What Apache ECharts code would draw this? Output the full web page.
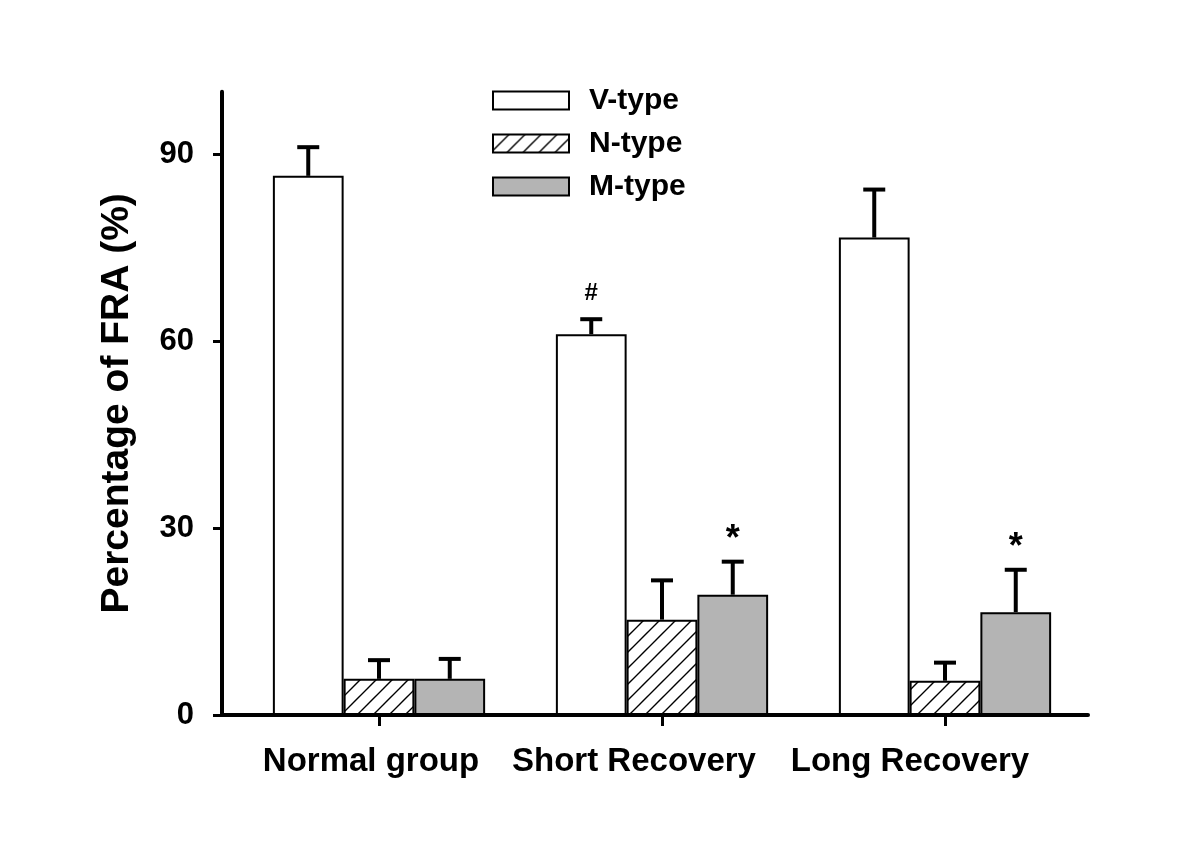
<!DOCTYPE html>
<html>
<head>
<meta charset="utf-8">
<script src="https://cdn.jsdelivr.net/npm/echarts@6/dist/echarts.min.js"></script>
<style>html,body{margin:0;padding:0;background:#fff;}#chart{width:1200px;height:863px;}</style>
</head>
<body>
<div id="chart"></div>
<script>
// ---- data ----
const categories = ['Normal group', 'Short Recovery', 'Long Recovery'];
const seriesNames = ['V-type', 'N-type', 'M-type'];
const vType = [86.5, 61.1, 76.6];
const vErr  = [4.6, 2.4, 7.7];
const nType = [5.8, 15.3, 5.5];
const nErr  = [3.0, 6.3, 2.9];
const mType = [5.8, 19.3, 16.5];
const mErr  = [3.2, 5.3, 6.8];
const vSig = ['', '#', ''];
const nSig = ['', '', ''];
const mSig = ['', '*', '*'];
const yTicks = [0, 30, 60, 90];
const yMin = 0, yMax = 100;

// ---- styles ----
const FONT = "'Liberation Sans', Arial, Helvetica, sans-serif";
function hatchPattern() {
  const c = document.createElement('canvas');
  c.width = 16; c.height = 16;
  const g = c.getContext('2d');
  g.fillStyle = '#fff'; g.fillRect(0, 0, 16, 16);
  g.strokeStyle = '#000'; g.lineWidth = 1.4;
  g.beginPath();
  g.moveTo(-2, 18); g.lineTo(18, -2);
  g.moveTo(-2, 2); g.lineTo(2, -2);
  g.moveTo(14, 18); g.lineTo(18, 14);
  g.stroke();
  return c;
}
const fills = ['#ffffff', { image: hatchPattern(), repeat: 'repeat' }, '#b4b4b4'];
const values = [vType, nType, mType];
const errs = [vErr, nErr, mErr];
const sigs = [vSig, nSig, mSig];
const sigStyle = { '#': { size: 24, dy: 26 }, '*': { size: 36, dy: 22 } };
const labelShift = ['a', 'b', 'c'];

const gridTop = 91.7, gridBottom = 863 - 715;

const series = [];
values.forEach((vals, s) => {
  series.push({
    name: seriesNames[s],
    type: 'bar',
    xAxisIndex: 1, yAxisIndex: 1,
    data: vals,
    barGap: '0%',
    barCategoryGap: '25%',
    itemStyle: { color: fills[s], borderColor: '#000', borderWidth: 2 },
    emphasis: { disabled: true },
    z: 2
  });
});
values.forEach((vals, s) => {
  const offset = s - 1;
  series.push({
    type: 'custom',
    xAxisIndex: 1, yAxisIndex: 1,
    data: vals.map((v, i) => [i, v, errs[s][i]]),
    encode: { x: 0, y: 1 },
    z: 5,
    silent: true,
    renderItem: function (params, api) {
      const i = api.value(0), v = api.value(1), e = api.value(2);
      const base = api.coord([i, v]);
      const top = api.coord([i, v + e]);
      const bw = api.size([1, 0])[0] * 0.25;
      const x = base[0] + offset * bw;
      const children = [
        { type: 'line', shape: { x1: x, y1: base[1], x2: x, y2: top[1] }, style: { stroke: '#000', lineWidth: 4 } },
        { type: 'line', shape: { x1: x - 11, y1: top[1], x2: x + 11, y2: top[1] }, style: { stroke: '#000', lineWidth: 4 } }
      ];
      const sg = sigs[s][params.dataIndex];
      if (sg) {
        const st = sigStyle[sg];
        children.push({
          type: 'text', x: x, y: top[1] - st.dy,
          style: { text: sg, fill: '#000', font: 'bold ' + st.size + 'px ' + FONT, align: 'center', verticalAlign: 'middle' }
        });
      }
      return { type: 'group', children: children };
    }
  });
});

const option = {
  animation: false,
  backgroundColor: '#fff',
  legend: {
    data: seriesNames,
    orient: 'vertical',
    left: 487, top: 80,
    icon: 'rect',
    itemWidth: 76, itemHeight: 18,
    itemGap: 12,
    selectedMode: false,
    textStyle: { fontFamily: FONT, fontWeight: 'bold', fontSize: 30, color: '#000', lineHeight: 31, padding: [0, 0, 0, 15] }
  },
  grid: [
    { left: 222, top: gridTop, width: 866, bottom: gridBottom },
    { left: 237.5, top: gridTop, width: 849, bottom: gridBottom }
  ],
  xAxis: [
    { type: 'value', gridIndex: 0, min: 0, max: 1,
      axisLine: { show: true, lineStyle: { color: '#000', width: 4 } },
      axisTick: { show: false }, axisLabel: { show: false }, splitLine: { show: false } },
    { type: 'category', gridIndex: 1, data: categories,
      axisLine: { show: false },
      axisTick: { show: true, alignWithLabel: true, length: 11, lineStyle: { color: '#000', width: 3 } },
      axisLabel: {
        margin: 30,
        formatter: function (val, idx) { return '{' + labelShift[idx] + '|' + val + '}'; },
        rich: {
          a: { fontFamily: FONT, fontWeight: 'bold', fontSize: 33, color: '#000', padding: [0, 16, 0, 0] },
          b: { fontFamily: FONT, fontWeight: 'bold', fontSize: 33, color: '#000', padding: [0, 56, 0, 0] },
          c: { fontFamily: FONT, fontWeight: 'bold', fontSize: 33, color: '#000', padding: [0, 70, 0, 0] }
        }
      },
      splitLine: { show: false } }
  ],
  yAxis: [
    { type: 'value', gridIndex: 0, min: yMin, max: yMax,
      name: 'Percentage of FRA (%)', nameLocation: 'middle', nameGap: 85, nameRotate: 90,
      nameTextStyle: { fontFamily: FONT, fontWeight: 'bold', fontSize: 39, color: '#000' },
      axisLine: { show: true, lineStyle: { color: '#000', width: 4 } },
      axisTick: { show: true, customValues: yTicks, length: 9, lineStyle: { color: '#000', width: 3 } },
      axisLabel: { customValues: yTicks, margin: 28, fontFamily: FONT, fontWeight: 'bold', fontSize: 31, color: '#000' },
      splitLine: { show: false } },
    { type: 'value', gridIndex: 1, min: yMin, max: yMax, show: false, splitLine: { show: false } }
  ],
  series: series
};
const chart = echarts.init(document.getElementById('chart'), null, { renderer: 'canvas' });
chart.setOption(option);
</script>
</body>
</html>
